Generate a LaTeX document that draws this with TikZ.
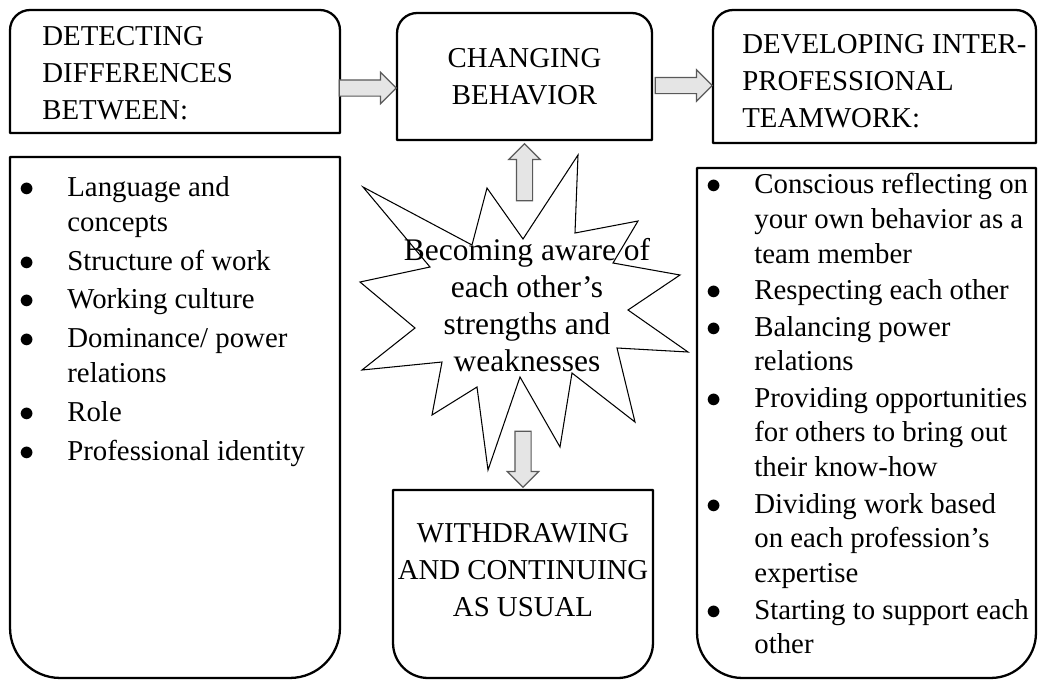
\documentclass[tikz,border=0pt]{standalone}
\usepackage{fontspec}
\setmainfont{Liberation Serif}
\usetikzlibrary{shapes.arrows, calc, positioning}

% bullet item with hanging indent
\newlength{\bulind}
\setlength{\bulind}{0.98cm}
\newcommand{\bul}{\noindent\hangindent=\bulind\hangafter=1\makebox[\bulind][l]{\hspace{0.03cm}$\bullet$}}

% box outline, rounded on top or on bottom
\newcommand{\roundtop}[2]{%
  \draw[boxline] (#1.south west) -- ([yshift=-#2]#1.north west)
    .. controls ([yshift=-0.45*#2]#1.north west) and ([xshift=0.45*#2]#1.north west) .. ([xshift=#2]#1.north west)
    -- ([xshift=-#2]#1.north east)
    .. controls ([xshift=-0.45*#2]#1.north east) and ([yshift=-0.45*#2]#1.north east) .. ([yshift=-#2]#1.north east)
    -- (#1.south east) -- cycle;}
\newcommand{\roundbot}[2]{%
  \draw[boxline] (#1.north west) -- ([yshift=#2]#1.south west)
    .. controls ([yshift=0.45*#2]#1.south west) and ([xshift=0.45*#2]#1.south west) .. ([xshift=#2]#1.south west)
    -- ([xshift=-#2]#1.south east)
    .. controls ([xshift=-0.45*#2]#1.south east) and ([yshift=0.45*#2]#1.south east) .. ([yshift=#2]#1.south east)
    -- (#1.north east) -- cycle;}

\begin{document}
\begin{tikzpicture}[x=0.02cm, y=-0.02cm,
	area/.style={rectangle, inner sep=0pt, outer sep=0pt},
	boxline/.style={line width=1.3pt, line join=round},
	head/.style={inner sep=0pt, font=\fontsize{16.4}{21}\selectfont},
	list/.style={inner sep=0pt, anchor=north west, text width=7cm, align=flush left},
	blockarrow/.style={single arrow, draw=black!65, fill=black!10, line width=0.7pt,
		inner sep=0pt, inner ysep=0.15cm, single arrow head extend=0.15cm,
		minimum height=1.14cm, anchor=tip},
	vertarrow/.style={blockarrow, inner ysep=0pt, inner xsep=0.15cm},
	star/.style={draw, line width=0.6pt, line join=miter}]
	
	\useasboundingbox (0,0) rectangle (1038,680);
	
	% box areas
	\node[area, minimum width=6.6cm, minimum height=2.46cm] (detect) at (175,71.5) {};
	\node[area, minimum width=6.6cm, minimum height=10.42cm] (difflist) at (175,417.5) {};
	\node[area, minimum width=5.1cm, minimum height=2.54cm] (change) at (524.5,76.5) {};
	\node[area, minimum width=6.46cm, minimum height=2.66cm] (dev) at (874.5,76.5) {};
	\node[area, minimum width=6.78cm, minimum height=10.2cm] (teamlist) at (866.5,423) {};
	\node[area, minimum width=5.2cm, minimum height=3.76cm] (withdraw) at (523,584) {};
	
	% outlines
	\roundtop{detect}{0.4cm}
	\roundtop{change}{0.4cm}
	\roundtop{dev}{0.4cm}
	\roundbot{difflist}{1.0cm}
	\roundbot{teamlist}{0.9cm}
	\roundbot{withdraw}{0.7cm}
	
	% explosion
	\draw[star] (578,155) -- (575,233) -- (638,221) -- (613,263) -- (680,275) -- (628,310)
		-- (688,352) -- (617,348) -- (635,422) -- (572,373) -- (560,447) -- (520,377)
		-- (488,470) -- (477,387) -- (432,415) -- (442,362) -- (362,370) -- (415,328)
		-- (360,282) -- (430,267) -- (363,187) -- (472,245) -- (487,188) -- (523,239) -- cycle;
	
	% headings
	\node[head, anchor=north west, align=left] (detecttxt) at ($(detect.north west)+(32,16)$) {DETECTING\\DIFFERENCES\\BETWEEN:};
	\node[head, anchor=north, align=center] (changetxt) at ($(change.north)+(0,35)$) {CHANGING\\BEHAVIOR};
	\node[head, anchor=north west, align=left] (devtxt) at ($(dev.north west)+(29,24)$) {DEVELOPING INTER-\\PROFESSIONAL\\TEAMWORK:};
	\node[head, anchor=north, align=center] (withdrawtxt) at ($(withdraw.north)+(0,33)$) {WITHDRAWING\\AND CONTINUING\\AS USUAL};
	\node[head, anchor=north, align=center, font=\fontsize{17.9}{21}\selectfont] (awaretxt) at (527,238) {Becoming aware of\\each other’s\\strengths and\\weaknesses};
	
	% lists
	\node[list, font=\fontsize{16.4}{19.8}\selectfont] (difftxt) at ($(difflist.north west)+(8,19)$) {\setlength{\parskip}{2.3pt}%
		\bul Language and\newline concepts\par
		\bul Structure of work\par
		\bul Working culture\par
		\bul Dominance/ power\newline relations\par
		\bul Role\par
		\bul Professional identity\par};
	\node[list, font=\fontsize{16.4}{19.8}\selectfont] (teamtxt) at ($(teamlist.north west)+(8,5)$) {\setlength{\parskip}{0.9pt}%
		\bul Conscious reflecting on\newline your own behavior as a\newline team member\par
		\bul Respecting each other\par
		\bul Balancing power\newline relations\par
		\bul Providing opportunities\newline for others to bring out\newline their know-how\par
		\bul Dividing work based\newline on each profession’s\newline expertise\par
		\bul Starting to support each\newline other\par};
	
	% block arrows
	\node[blockarrow] (arrAC) at ([yshift=-0.23cm]change.west) {};
	\node[blockarrow] (arrCD) at ([yshift=-0.18cm]dev.west) {};
	\node[vertarrow, shape border rotate=90] (arrup) at ([yshift=-0.06cm]change.south) {};
	\node[vertarrow, shape border rotate=270, minimum height=1.12cm] (arrdown) at ([yshift=0.04cm]withdraw.north) {};
\end{tikzpicture}
\end{document}
